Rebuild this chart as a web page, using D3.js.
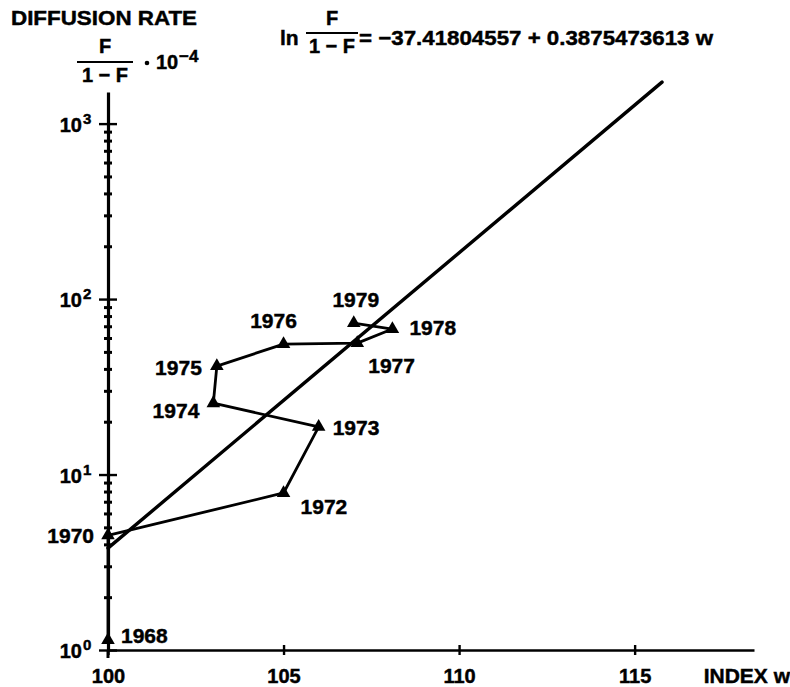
<!DOCTYPE html>
<html>
<head>
<meta charset="utf-8">
<script src="https://cdn.jsdelivr.net/npm/d3@7"></script>
<style>
  html, body { margin: 0; padding: 0; background: #fff; }
  svg { display: block; }
  text { font-family: "Liberation Sans", Arial, sans-serif; font-weight: bold; fill: #000; stroke: #000; stroke-width: 0.45px; }
</style>
</head>
<body>
<svg id="chart" width="790" height="687"></svg>
<script>
// observed diffusion points, F/(1-F) in units of 10^-4, against index w
const years = ['1968', '1970', '1972', '1973', '1974', '1975', '1976', '1977', '1978', '1979'];
const indexW = [100.0, 100.0, 105.0, 106.0, 103.0, 103.1, 105.0, 107.1, 108.1, 107.0];
const rate = [1.14, 4.5, 7.85, 18.7, 25.5, 41.5, 55.4, 56.1, 67.5, 73.0];

// fitted line: ln F/(1-F) = a + b w
const fitA = -37.41804557;
const fitB = 0.3875473613;
const fitRange = [100, 115.78];

const xTicks = [100, 105, 110, 115];
const yDecades = [1, 10, 100, 1000];

const svg = d3.select('#chart');

const x = d3.scaleLinear().domain([100, 118.4]).range([108, 754]);
const y = d3.scaleLog().domain([1, 1514]).range([650, 92]);

// x axis
const xAxisG = svg.append('g')
  .attr('transform', `translate(0,${y(1)})`)
  .call(d3.axisBottom(x).tickValues(xTicks).tickSizeOuter(0).tickSize(0).tickFormat(d3.format('d')));
xAxisG.attr('font-size', null).attr('font-family', null);
xAxisG.select('.domain').attr('stroke', '#000').attr('stroke-width', 2.4);
xAxisG.selectAll('.tick line').attr('y1', -5).attr('y2', 5).attr('stroke', '#000').attr('stroke-width', 2.4);
xAxisG.selectAll('.tick text')
  .attr('y', 33).attr('dy', 0)
  .style('font-size', '20px');

// y axis with minor ticks at 2..9 of every decade
const yTickVals = [];
yDecades.forEach(d => {
  for (let k = 1; k <= 9; k++) {
    if (d * k <= 1514) yTickVals.push(d * k);
  }
});
const yAxisG = svg.append('g')
  .attr('transform', `translate(${x(100)},0)`)
  .call(d3.axisLeft(y).tickValues(yTickVals).tickSizeOuter(0).tickSize(0).tickFormat(''));
yAxisG.attr('font-size', null).attr('font-family', null);
yAxisG.select('.domain').attr('stroke', '#000').attr('stroke-width', 3.2);
yAxisG.selectAll('.tick line')
  .attr('stroke', '#000')
  .attr('stroke-width', d => yDecades.includes(d) ? 2.4 : 3)
  .attr('x1', d => yDecades.includes(d) ? -9 : -4)
  .attr('x2', d => yDecades.includes(d) ? 9 : 4);
// small stub of the y axis below the x axis
yAxisG.append('line')
  .attr('x1', 0).attr('x2', 0).attr('y1', y(1)).attr('y2', y(1) + 8)
  .attr('stroke', '#000').attr('stroke-width', 3);

// decade labels 10^n
yDecades.forEach(d => {
  svg.append('text')
    .attr('x', 82).attr('y', y(d) + 8)
    .attr('text-anchor', 'end')
    .style('font-size', '20px')
    .text('10');
  svg.append('text')
    .attr('x', 83).attr('y', y(d))
    .style('font-size', '15px')
    .text(String(Math.round(Math.log10(d))));
});

// fitted regression line
const fitLine = d3.line()
  .x(w => x(w))
  .y(w => y(Math.exp(fitA + fitB * w)));
svg.append('path')
  .attr('d', fitLine(fitRange))
  .attr('fill', 'none')
  .attr('stroke', '#000')
  .attr('stroke-width', 3.4)
  .attr('stroke-linecap', 'round');

// observed path
const points = years.map((yr, i) => ({ year: yr, w: indexW[i], v: rate[i] }));
const pathLine = d3.line().x(d => x(d.w)).y(d => y(d.v));
svg.append('path')
  .attr('d', pathLine(points))
  .attr('fill', 'none')
  .attr('stroke', '#000')
  .attr('stroke-width', 2.8)
  .attr('stroke-linejoin', 'round');

svg.append('g').selectAll('path')
  .data(points)
  .join('path')
  .attr('transform', d => `translate(${x(d.w)},${y(d.v)})`)
  .attr('d', d3.symbol().type(d3.symbolTriangle).size(80))
  .attr('fill', '#000');

// year labels, placed next to their markers
const labelPlace = {
  '1968': { dx: 13, dy: 3, anchor: 'start' },
  '1970': { dx: -14, dy: 8, anchor: 'end' },
  '1972': { dx: 17, dy: 21, anchor: 'start' },
  '1973': { dx: 14, dy: 8, anchor: 'start' },
  '1974': { dx: -14, dy: 15, anchor: 'end' },
  '1975': { dx: -15, dy: 9, anchor: 'end' },
  '1976': { dx: -10, dy: -16, anchor: 'middle' },
  '1977': { dx: 11, dy: 30, anchor: 'start' },
  '1978': { dx: 17, dy: 6, anchor: 'start' },
  '1979': { dx: 2, dy: -16, anchor: 'middle' }
};
svg.append('g').selectAll('text')
  .data(points)
  .join('text')
  .attr('x', d => x(d.w) + labelPlace[d.year].dx)
  .attr('y', d => y(d.v) + labelPlace[d.year].dy)
  .attr('text-anchor', d => labelPlace[d.year].anchor)
  .style('font-size', '21px')
  .text(d => d.year);

// axis titles
svg.append('text').attr('x', 11).attr('y', 25)
  .style('font-size', '21px')
  .attr('textLength', 186).attr('lengthAdjust', 'spacingAndGlyphs')
  .text('DIFFUSION RATE');

// F/(1-F) · 10^-4
svg.append('text').attr('x', 105).attr('y', 53).attr('text-anchor', 'middle')
  .style('font-size', '20px').text('F');
svg.append('line').attr('x1', 77).attr('x2', 133).attr('y1', 62).attr('y2', 62)
  .attr('stroke', '#000').attr('stroke-width', 2.2);
svg.append('text').attr('x', 105).attr('y', 82).attr('text-anchor', 'middle')
  .style('font-size', '20px').text('1 \u2212 F');
svg.append('circle').attr('cx', 147).attr('cy', 63).attr('r', 2.3).attr('fill', '#000');
svg.append('text').attr('x', 156).attr('y', 69)
  .style('font-size', '20px').text('10');
svg.append('text').attr('x', 179).attr('y', 62)
  .style('font-size', '17px').text('\u22124');

// equation
svg.append('text').attr('x', 280).attr('y', 45)
  .style('font-size', '21px').text('ln');
svg.append('text').attr('x', 332).attr('y', 25).attr('text-anchor', 'middle')
  .style('font-size', '20px').text('F');
svg.append('line').attr('x1', 306).attr('x2', 358).attr('y1', 33).attr('y2', 33)
  .attr('stroke', '#000').attr('stroke-width', 2.2);
svg.append('text').attr('x', 332).attr('y', 53).attr('text-anchor', 'middle')
  .style('font-size', '20px').text('1 \u2212 F');
svg.append('text').attr('x', 359).attr('y', 45)
  .style('font-size', '21px')
  .attr('textLength', 354).attr('lengthAdjust', 'spacingAndGlyphs')
  .text(`= \u2212${Math.abs(fitA).toFixed(8)} + ${fitB.toFixed(10)} w`);

svg.append('text').attr('x', 790).attr('y', 683).attr('text-anchor', 'end')
  .style('font-size', '21px').text('INDEX w');
</script>
</body>
</html>
